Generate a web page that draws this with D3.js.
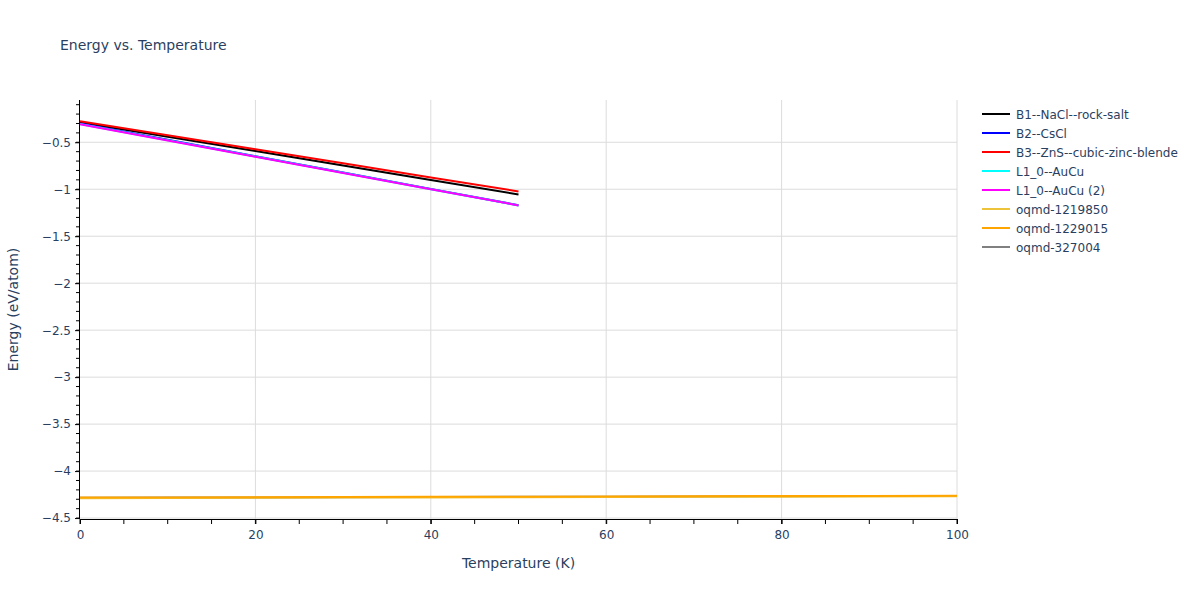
<!DOCTYPE html>
<html>
<head>
<meta charset="utf-8">
<script src="https://cdn.jsdelivr.net/npm/d3@7"></script>
<style>
  body { margin: 0; background: #fff; }
  svg { font-family: "DejaVu Sans", Verdana, sans-serif; }
</style>
</head>
<body>
<svg id="chart" width="1200" height="600"></svg>
<script>
// ---- data ----
const seriesNames = ["B1--NaCl--rock-salt", "B2--CsCl", "B3--ZnS--cubic-zinc-blende", "L1_0--AuCu", "L1_0--AuCu (2)", "oqmd-1219850", "oqmd-1229015", "oqmd-327004"];
const seriesColors = ["#000000", "#0000ff", "#ff0000", "#00ffff", "#ff00ff", "#ecc33a", "#ffa500", "#808080"];
const drawOrder = [7, 5, 6, 0, 1, 3, 4, 2];
const tempShort = [0, 10, 20, 30, 40, 50];
const tempLong = [0, 10, 20, 30, 40, 50, 60, 70, 80, 90, 100];
const b1 = [-0.287, -0.441, -0.594, -0.748, -0.901, -1.055];
const b2 = [-0.300, -0.474, -0.648, -0.822, -0.996, -1.170];
const b3 = [-0.276, -0.425, -0.575, -0.724, -0.874, -1.023];
const l10 = [-0.305, -0.478, -0.652, -0.825, -0.999, -1.172];
const l10b = [-0.307, -0.480, -0.653, -0.826, -0.999, -1.172];
const oq1219850 = [-4.288, -4.286, -4.284, -4.282, -4.280, -4.278, -4.276, -4.274, -4.272, -4.270, -4.268];
const oq1229015 = [-4.282, -4.280, -4.278, -4.276, -4.274, -4.272, -4.270, -4.268, -4.266, -4.264, -4.262];
const oq327004 = [-4.284, -4.282, -4.280, -4.278, -4.276, -4.274, -4.272, -4.270, -4.268, -4.266, -4.264];
const seriesX = [tempShort, tempShort, tempShort, tempShort, tempShort, tempLong, tempLong, tempLong];
const seriesY = [b1, b2, b3, l10, l10b, oq1219850, oq1229015, oq327004];
const xTicks = [0, 20, 40, 60, 80, 100];
const yTicks = [-0.5, -1, -1.5, -2, -2.5, -3, -3.5, -4, -4.5];
const titleText = "Energy vs. Temperature";
const xTitle = "Temperature (K)";
const yTitle = "Energy (eV/atom)";

// ---- layout ----
const svg = d3.select("#chart");
const L = 80, R = 957, T = 100, B = 519;
const textColor = "#2a3f5f";
const x = d3.scaleLinear().domain([0, 100]).range([L, R]);
const y = d3.scaleLinear().domain([-4.51, -0.05]).range([B, T]);

// grid
const grid = svg.append("g");
grid.selectAll("line.vx").data(xTicks.filter(d => d > 0)).enter().append("line")
  .attr("x1", d => x(d)).attr("x2", d => x(d)).attr("y1", T).attr("y2", B)
  .attr("stroke", "#dcdcdc").attr("stroke-width", 1);
grid.selectAll("line.hy").data(yTicks).enter().append("line")
  .attr("x1", L).attr("x2", R).attr("y1", d => y(d)).attr("y2", d => y(d))
  .attr("stroke", "#dcdcdc").attr("stroke-width", 1);

// lines
const line = d3.line().x(d => x(d[0])).y(d => y(d[1]));
const plot = svg.append("g");
drawOrder.forEach(i => {
  const pts = seriesX[i].map((t, j) => [t, seriesY[i][j]]);
  plot.append("path").datum(pts).attr("d", line)
    .attr("fill", "none").attr("stroke", seriesColors[i]).attr("stroke-width", 2);
});

// minor ticks
const xMinor = d3.range(0, 100.001, 5);
const yMinor = d3.range(-4.5, -0.05, 0.1);
const axG = svg.append("g");
axG.selectAll("line.xm").data(xMinor).enter().append("line")
  .attr("x1", d => x(d)).attr("x2", d => x(d)).attr("y1", B).attr("y2", B + 5)
  .attr("stroke", "#000").attr("stroke-width", 1);
axG.selectAll("line.ym").data(yMinor).enter().append("line")
  .attr("x1", L - 4).attr("x2", L).attr("y1", d => y(d)).attr("y2", d => y(d))
  .attr("stroke", "#000").attr("stroke-width", 1);

// axes
const xAxis = d3.axisBottom(x).tickValues(xTicks).tickSize(5).tickPadding(6).tickFormat(d3.format("d"));
const gx = svg.append("g").attr("transform", `translate(0,${B})`).call(xAxis);
gx.select(".domain").attr("stroke", "#000").attr("d", `M${L},0.5H${R}`);
gx.selectAll(".tick line").attr("stroke", "#000");
gx.selectAll("text").attr("fill", textColor).style("font-size", "12px").style("font-family", "DejaVu Sans");

const fmtY = d => (d < 0 ? "\u2212" + Math.abs(d) : String(d));
const yAxis = d3.axisLeft(y).tickValues(yTicks).tickSize(5).tickPadding(4).tickFormat(fmtY);
const gy = svg.append("g").attr("transform", `translate(${L},0)`).call(yAxis);
gy.select(".domain").attr("stroke", "#000").attr("d", `M-0.5,${T}V${B}`);
gy.selectAll(".tick line").attr("stroke", "#000");
gy.selectAll("text").attr("fill", textColor).style("font-size", "12px").style("font-family", "DejaVu Sans");

// titles
svg.append("text").attr("x", 60).attr("y", 50).text(titleText)
  .attr("fill", textColor).style("font-size", "14px");
svg.append("text").attr("x", (L + R) / 2).attr("y", 568).attr("text-anchor", "middle")
  .text(xTitle).attr("fill", textColor).style("font-size", "14px");
svg.append("text").attr("transform", `translate(18,${(T + B) / 2}) rotate(-90)`)
  .attr("text-anchor", "middle").text(yTitle).attr("fill", textColor).style("font-size", "14px");

// legend
const leg = svg.append("g");
seriesNames.forEach((name, i) => {
  const yy = 114 + i * 19;
  leg.append("line").attr("x1", 982).attr("x2", 1010).attr("y1", yy).attr("y2", yy)
    .attr("stroke", seriesColors[i]).attr("stroke-width", 2);
  leg.append("text").attr("x", 1016).attr("y", yy + 4.5).text(name)
    .attr("fill", textColor).style("font-size", "12px");
});
</script>
</body>
</html>
